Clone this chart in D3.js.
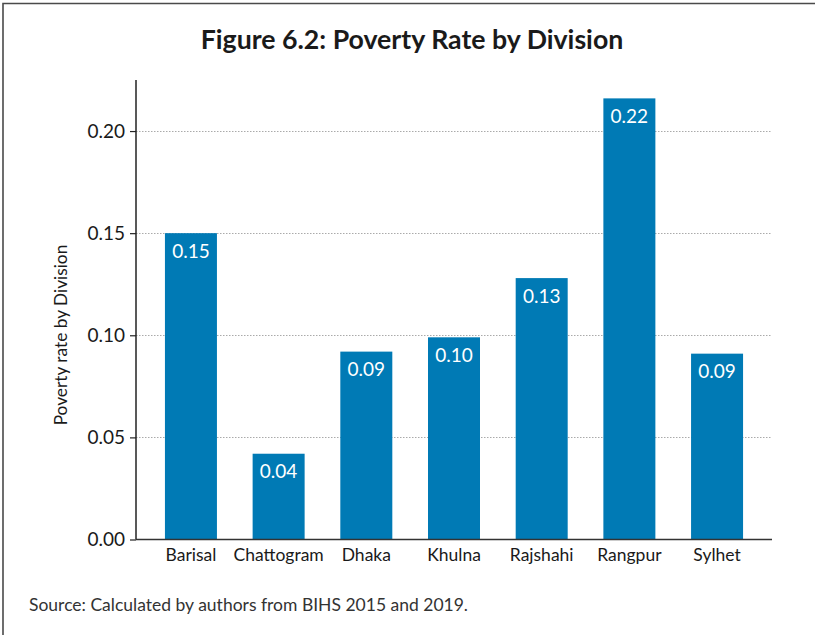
<!DOCTYPE html>
<html>
<head>
<meta charset="utf-8">
<script src="https://cdn.jsdelivr.net/npm/d3@7"></script>
<style>
  body { margin: 0; background: #fff; }
  svg { display: block; font-family: Lato, "Open Sans", sans-serif; }
</style>
</head>
<body>
<svg id="chart"></svg>
<script>
const divisions = ["Barisal", "Chattogram", "Dhaka", "Khulna", "Rajshahi", "Rangpur", "Sylhet"];
const rates = [0.150, 0.042, 0.092, 0.099, 0.128, 0.216, 0.091];
const rateLabels = ["0.15", "0.04", "0.09", "0.10", "0.13", "0.22", "0.09"];
const yTicks = [0, 0.05, 0.1, 0.15, 0.2];

const width = 815;
const height = 635;
const margin = { top: 80, right: 43, bottom: 96, left: 136 };

const svg = d3.select("#chart")
  .attr("width", width)
  .attr("height", height)
  .attr("viewBox", `0 0 ${width} ${height}`);

// frame: top and left edges only
svg.append("path")
  .attr("d", `M3,${height} L3,3.5 L${width},3.5`)
  .attr("fill", "none")
  .attr("stroke", "#4a4a4a")
  .attr("stroke-width", 1.6);

const x = d3.scaleBand()
  .domain(divisions)
  .range([margin.left, width - margin.right])
  .paddingInner(0.407)
  .paddingOuter(0.33);

const y = d3.scaleLinear()
  .domain([0, 0.225])
  .range([height - margin.bottom + 0.5, margin.top]);

svg.append("text")
  .attr("x", 412)
  .attr("y", 49)
  .attr("text-anchor", "middle")
  .attr("font-size", 26.7)
  .attr("font-weight", "bold")
  .attr("fill", "#1a1a1a")
  .text("Figure 6.2: Poverty Rate by Division");

// dotted gridlines
svg.append("g")
  .selectAll("line")
  .data(yTicks.filter(d => d > 0))
  .join("line")
  .attr("x1", margin.left)
  .attr("x2", width - margin.right)
  .attr("y1", d => Math.round(y(d)) + 0.5)
  .attr("y2", d => Math.round(y(d)) + 0.5)
  .attr("stroke", "#aaa")
  .attr("stroke-width", 1)
  .attr("stroke-dasharray", "1.5,1.5");

svg.append("g")
  .selectAll("rect")
  .data(divisions)
  .join("rect")
  .attr("x", d => x(d))
  .attr("y", (d, i) => y(rates[i]))
  .attr("width", x.bandwidth())
  .attr("height", (d, i) => y(0) - y(rates[i]))
  .attr("fill", "#007ab5");

svg.append("g")
  .selectAll("text")
  .data(divisions)
  .join("text")
  .attr("x", d => x(d) + x.bandwidth() / 2)
  .attr("y", (d, i) => y(rates[i]) + 24.5)
  .attr("text-anchor", "middle")
  .attr("font-size", 19)
  .attr("fill", "#fff")
  .text((d, i) => rateLabels[i]);

const yAxis = svg.append("g")
  .attr("transform", `translate(${margin.left},0)`)
  .call(d3.axisLeft(y).tickValues(yTicks).tickFormat(d3.format(".2f")).tickSize(6).tickPadding(5));
yAxis.select(".domain").attr("stroke", "#222").attr("stroke-width", 1.5).attr("d", `M0,${y(0)}V${margin.top}`);
yAxis.selectAll(".tick line").attr("stroke", "#222").attr("stroke-width", 1.2);
yAxis.selectAll(".tick text")
  .attr("font-family", "Lato, sans-serif")
  .attr("font-size", 19)
  .attr("fill", "#1a1a1a");

const xAxis = svg.append("g")
  .attr("transform", `translate(0,${y(0)})`)
  .call(d3.axisBottom(x).tickSize(0).tickPadding(9));
xAxis.select(".domain").attr("stroke", "#333").attr("stroke-width", 1.5)
  .attr("d", `M${margin.left},0H${width - margin.right}`);
xAxis.selectAll(".tick text")
  .attr("font-family", "Lato, sans-serif")
  .attr("font-size", 17.5)
  .attr("fill", "#1a1a1a");

svg.append("text")
  .attr("transform", `translate(67,335) rotate(-90)`)
  .attr("text-anchor", "middle")
  .attr("font-size", 17.3)
  .attr("fill", "#1a1a1a")
  .text("Poverty rate by Division");

svg.append("text")
  .attr("x", 29)
  .attr("y", 611)
  .attr("font-size", 17.5)
  .attr("fill", "#333")
  .text("Source: Calculated by authors from BIHS 2015 and 2019.");
</script>
</body>
</html>
